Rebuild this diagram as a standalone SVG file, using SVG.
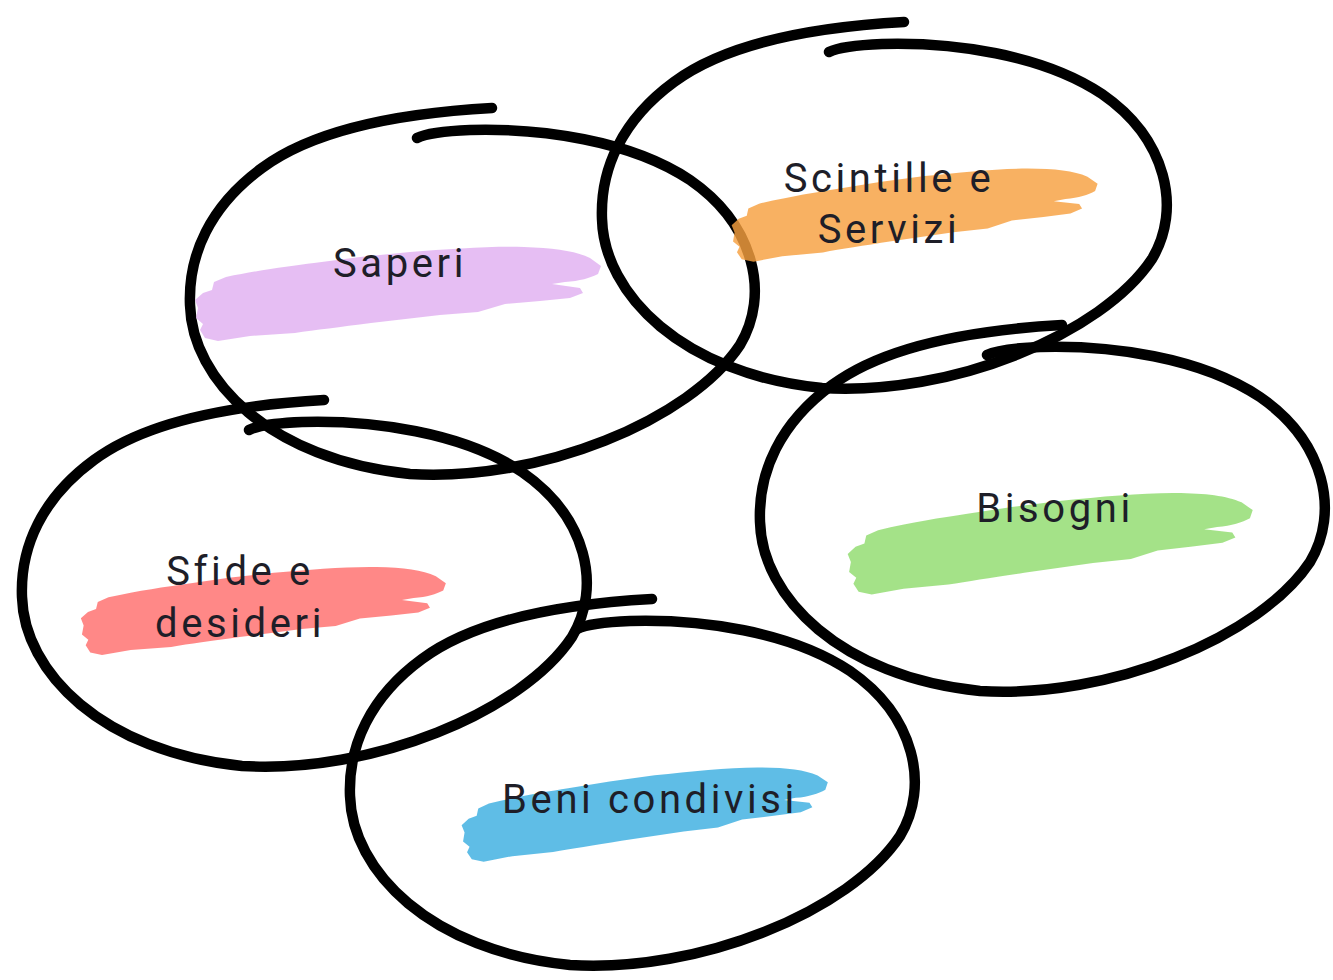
<svg xmlns="http://www.w3.org/2000/svg" xmlns:xlink="http://www.w3.org/1999/xlink" width="1333" height="980" viewBox="0 0 1333 980">
<style>
.loop{fill:none;stroke:#000;stroke-width:10.5;stroke-linecap:round;stroke-linejoin:round}
.brush{opacity:0.82}
.lbl{font-family:Roboto,"Liberation Sans",sans-serif;font-size:40px;letter-spacing:3.6px;fill:#1e1e28;text-anchor:middle}
</style>
<defs>
<path id="loop" d="M492,108 C420,112 320,125 262,168 C210,206 188,255 190,305 C192,380 270,460 410,474 C540,482 690,420 740,345 C770,295 755,225 690,180 C630,140 540,128 470,130 C445,131 425,134 417,138"/>
<path id="brush" d="M203,293 L212,290 L214,282 L226,277 C260,270 290,266 314,263 L360,257 L410,252 C450,249 490,246 524,247 C555,248 575,251 590,258 L601,266 L598,274 C590,278 580,281 565,282 L552,284 L580,288 L583,293 L570,298 L540,301 L505,304 L478,312 L440,315 L371,323 C340,327 315,330 295,333 L250,336 L218,341 L205,338 L200,330 L203,324 L196,318 L198,308 L195,300 Z"/>
</defs>
<rect width="1333" height="980" fill="#fff"/>
<g id="saperi">
<use href="#loop" class="loop"/>
<use href="#brush" class="brush" fill="#e1b0f0"/>
<text class="lbl" x="400" y="277">Saperi</text>
</g>
<g id="scintille">
<use href="#loop" class="loop" transform="translate(412,-86)"/>
<use href="#brush" class="brush" fill="#f6a040" transform="translate(732,237) rotate(-1.7) scale(0.904) translate(-195,-313)"/>
<text class="lbl" x="889" y="192">Scintille e</text>
<text class="lbl" x="889" y="243">Servizi</text>
</g>
<g id="sfide">
<use href="#loop" class="loop" transform="translate(-168,292)"/>
<use href="#brush" class="brush" fill="#ff6e6c" transform="translate(81,630) rotate(-0.7) scale(0.9) translate(-195,-313)"/>
<text class="lbl" x="240" y="585">Sfide e</text>
<text class="lbl" x="240" y="637">desideri</text>
</g>
<g id="bisogni">
<use href="#loop" class="loop" transform="translate(570,217)"/>
<use href="#brush" class="brush" fill="#90dc6e" transform="translate(848,567) rotate(-1.4) translate(-195,-313)"/>
<text class="lbl" x="1055" y="522">Bisogni</text>
</g>
<g id="beni">
<use href="#loop" class="loop" transform="translate(160,491)"/>
<use href="#brush" class="brush" fill="#3caee0" transform="translate(462,837) rotate(-1.9) scale(0.905) translate(-195,-313)"/>
<text class="lbl" x="650" y="813">Beni condivisi</text>
</g>
</svg>
